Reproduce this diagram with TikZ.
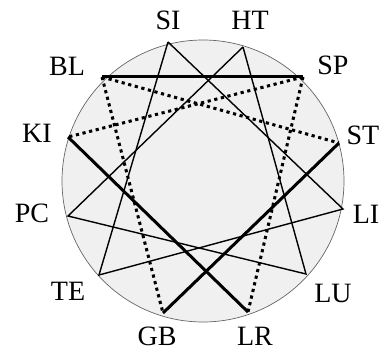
\documentclass[tikz,border=0pt]{standalone}
\usepackage{fontspec}
\setmainfont{Liberation Serif}
\begin{document}
\begin{tikzpicture}[x=1pt,y=-1pt, pnode/.style={coordinate}, lnode/.style={font=\fontsize{28}{28}\selectfont, inner sep=0pt, text height=18pt, text depth=0pt}, weak/.style={line width=1.4pt}, strong/.style={line width=3pt}, dotline/.style={line width=3pt, dash pattern=on 3.2pt off 3.6pt}]
    \useasboundingbox (0,0) rectangle (383,352);
    \node[draw=black!60, fill=black!6, circle, line width=0.7pt, minimum size=282pt, inner sep=0pt] (c) at (203,181) {};

    \node[pnode] (si) at (168,42) {};
    \node[pnode] (ht) at (243,47) {};
    \node[pnode] (sp) at (303,77) {};
    \node[pnode] (st) at (339,143) {};
    \node[pnode] (li) at (343,209) {};
    \node[pnode] (lu) at (306,274) {};
    \node[pnode] (lr) at (248,312) {};
    \node[pnode] (gb) at (163,313) {};
    \node[pnode] (te) at (99,275) {};
    \node[pnode] (pc) at (68,216) {};
    \node[pnode] (ki) at (68,137) {};
    \node[pnode] (bl) at (102,77) {};

    \node[lnode] (si-l) at (168,21) {SI};
    \node[lnode] (ht-l) at (250,21) {HT};
    \node[lnode] (sp-l) at (333,66) {SP};
    \node[lnode] (st-l) at (363,136) {ST};
    \node[lnode] (li-l) at (366,215) {LI};
    \node[lnode] (lu-l) at (333,294) {LU};
    \node[lnode] (lr-l) at (255,337) {LR};
    \node[lnode] (gb-l) at (157,337) {GB};
    \node[lnode] (te-l) at (68,292) {TE};
    \node[lnode] (pc-l) at (32,214) {PC};
    \node[lnode] (ki-l) at (37,134) {KI};
    \node[lnode] (bl-l) at (67,67) {BL};

    \draw[weak] (si) -- (li) -- (te) -- (si);
    \draw[weak] (ht) -- (lu) -- (pc) -- (ht);

    \draw[strong] (bl) edge (sp) ;
    \draw[strong] (ki) edge (lr) ;
    \draw[strong] (st) edge (gb) ;

   \begin{scope}[dotline]
    \draw (bl) to (st) ;
    \draw (bl) to (gb) ;
    \draw (sp) to (ki) ;
    \draw (sp) to (lr) ;
   \end{scope}
\end{tikzpicture}
\end{document}
